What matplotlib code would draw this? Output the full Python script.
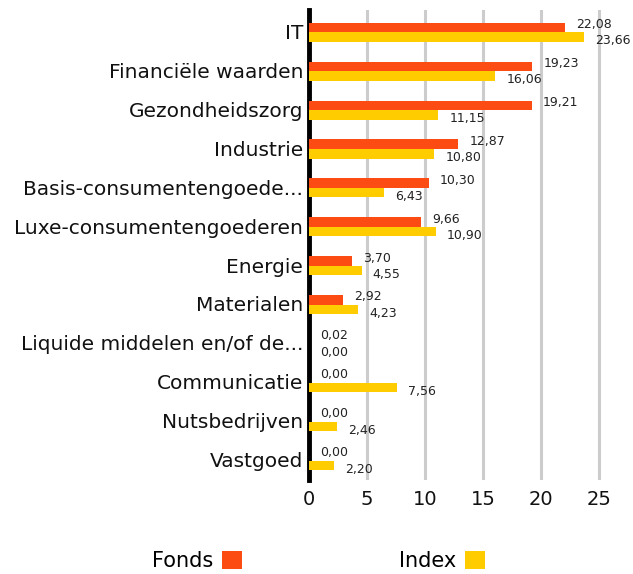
import matplotlib
matplotlib.use("Agg")
from matplotlib import pyplot as plt
import numpy as np

# Sector weights (%) for the fund vs. its index
categories = ["IT", "Financiële waarden", "Gezondheidszorg", "Industrie",
              "Basis-consumentengoede...", "Luxe-consumentengoederen", "Energie",
              "Materialen", "Liquide middelen en/of de...", "Communicatie",
              "Nutsbedrijven", "Vastgoed"]
fonds = [22.08, 19.23, 19.21, 12.87, 10.30, 9.66, 3.70, 2.92, 0.02, 0.00, 0.00, 0.00]
index = [23.66, 16.06, 11.15, 10.80, 6.43, 10.90, 4.55, 4.23, 0.00, 7.56, 2.46, 2.20]
xticks = [0, 5, 10, 15, 20, 25]
series_names = ["Fonds", "Index"]

RED = "#FC4C14"
YELLOW = "#FFCC00"

plt.rcParams["font.family"] = ["DejaVu Sans"]

fig = plt.figure(figsize=(6.33, 5.74), dpi=100)
ax = fig.add_axes([0.488, 0.1638, 0.512, 0.8188])

y = np.arange(len(categories))
h = 0.245
bf = ax.barh(y - h / 2 + 0.02, fonds, height=h, color=RED, zorder=3)
bi = ax.barh(y + h / 2 + 0.02, index, height=h, color=YELLOW, zorder=3)

# value labels, comma decimals
for i in range(len(categories)):
    ax.annotate(("%.2f" % fonds[i]).replace(".", ","), (fonds[i], y[i] - 0.18),
                xytext=(8, 0), textcoords="offset points", va="center",
                ha="left", fontsize=9, color="#222222")
    ax.annotate(("%.2f" % index[i]).replace(".", ","), (index[i], y[i] + 0.24),
                xytext=(8, 0), textcoords="offset points", va="center",
                ha="left", fontsize=9, color="#222222")

ax.set_xlim(0, 27.9)
ax.set_ylim(11.52, -0.55)
ax.set_yticks(y)
ax.set_yticklabels(categories, fontsize=14.5, color="#111111")
ax.set_xticks(xticks)
ax.set_xticklabels([str(t) for t in xticks], fontsize=14, color="#111111")
ax.tick_params(axis="both", length=0)
ax.tick_params(axis="y", pad=4)
ax.tick_params(axis="x", pad=7)

ax.xaxis.grid(True, color="#cccccc", linewidth=2.2, zorder=0)
ax.set_axisbelow(True)
for s in ["top", "right", "bottom"]:
    ax.spines[s].set_visible(False)
ax.spines["left"].set_linewidth(3.5)
ax.spines["left"].set_color("black")

fig.legend([bf, bi], series_names, loc="center", bbox_to_anchor=(0.503, 0.022),
           ncol=2, frameon=False, markerfirst=False, fontsize=15,
           handlelength=0.96, handleheight=0.96, handletextpad=0.43,
           columnspacing=7.5)

fig.savefig("out.png", dpi=100)
